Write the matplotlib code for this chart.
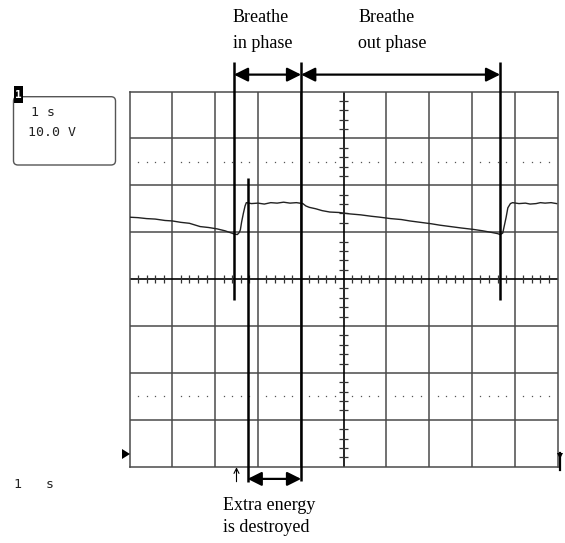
import matplotlib
matplotlib.use("Agg")
import matplotlib.pyplot as plt
from matplotlib.patches import FancyBboxPatch, FancyArrowPatch, Polygon, Rectangle

# trace (x in divisions of 1 s, y in divisions of 10 V)
trace_t = [0.00, 0.20, 0.40, 0.60, 0.83, 1.00, 1.20, 1.40, 1.65, 1.85, 2.05, 2.23,
           2.39, 2.45, 2.52, 2.56, 2.59, 2.62, 2.66, 2.70, 2.73, 2.85, 3.00, 3.15,
           3.30, 3.45, 3.60, 3.75, 3.90, 4.05, 4.12, 4.20, 4.35, 4.50, 4.68, 4.90,
           5.15, 5.40, 5.65, 5.85, 6.10, 6.35, 6.55, 6.80, 7.05, 7.25, 7.50, 7.75,
           8.03, 8.25, 8.49, 8.60, 8.66, 8.72, 8.76, 8.80, 8.84, 8.90, 8.95, 9.10,
           9.25, 9.36, 9.50, 9.60, 9.71, 9.85, 9.98]
trace_v = [1.32, 1.31, 1.29, 1.28, 1.25, 1.24, 1.21, 1.19, 1.12, 1.10, 1.07, 1.03,
           0.98, 0.96, 0.95, 0.99, 1.05, 1.22, 1.40, 1.56, 1.63, 1.61, 1.62, 1.60,
           1.63, 1.62, 1.64, 1.62, 1.63, 1.61, 1.56, 1.53, 1.50, 1.46, 1.43, 1.42,
           1.39, 1.37, 1.34, 1.32, 1.29, 1.27, 1.24, 1.21, 1.18, 1.15, 1.12, 1.09,
           1.06, 1.03, 0.99, 0.97, 0.95, 0.98, 1.15, 1.32, 1.52, 1.61, 1.63, 1.61,
           1.62, 1.60, 1.61, 1.63, 1.62, 1.63, 1.61]

# phase markers (time in divisions)
t_in_start = 2.44
t_extra = 2.76
t_out_start = 4.01
t_out_end = 8.66
t_trigger = 2.50

labels_top = [("Breathe", "in phase"), ("Breathe", "out phase")]
label_bottom = ("Extra energy", "is destroyed")
scale_time = "1 s"
scale_volt = "10.0 V"

W, H = 565, 543
fig = plt.figure(figsize=(W / 100, H / 100), dpi=100)
fig.patch.set_facecolor("white")

def fx(x):
    return x / W

def fy(y):
    return 1 - y / H

left, right, top, bottom = 129.5, 557.5, 91.5, 466.7
ax = fig.add_axes([fx(left), fy(bottom), (right - left) / W, (bottom - top) / H])
ax.set_xlim(0, 10)
ax.set_ylim(-4, 4)
ax.set_xticks([])
ax.set_yticks([])
for s in ax.spines.values():
    s.set_color("#4a4a4a")
    s.set_linewidth(1.1)

grid_col = "#4a4a4a"
for i in range(1, 10):
    if i != 5:
        ax.axvline(i, color=grid_col, lw=1.1, zorder=1)
for j in range(-3, 4):
    if j != 0:
        ax.axhline(j, color=grid_col, lw=1.1, zorder=1)

# centre axes with minor ticks
ax.axhline(0, color="black", lw=1.2, zorder=2)
ax.axvline(5, color="black", lw=1.2, zorder=2)
minor_x = [k / 5 for k in range(1, 50) if k % 5 != 0]
minor_y = [-4 + k / 5 for k in range(1, 40) if k % 5 != 0]
ax.vlines(minor_x, -0.08, 0.08, color="#333333", lw=0.9, zorder=2)
ax.hlines(minor_y, 5 - 0.11, 5 + 0.11, color="#333333", lw=0.9, zorder=2)

# dotted rows
for yy in (2.5, -2.5):
    ax.plot(minor_x, [yy] * len(minor_x), ls="none", marker="s", ms=0.9,
            mew=0, color="#555555", zorder=1)

# signal
ax.plot(trace_t, trace_v, color="#222222", lw=1.0, zorder=3)

# phase marker lines
mk = dict(color="black", lw=1.8, clip_on=False, zorder=4, solid_capstyle="butt")
ax.plot([t_in_start, t_in_start], [-0.45, 4.62], **mk)
ax.plot([t_extra, t_extra], [2.16, -4.33], **mk)
ax.plot([t_out_start, t_out_start], [4.62, -4.31], **mk)
ax.plot([t_out_end, t_out_end], [4.62, -0.45], **mk)

arr = dict(arrowstyle="<|-|>,head_length=0.6,head_width=0.3", mutation_scale=14,
           color="black", lw=1.6, shrinkA=0, shrinkB=0, clip_on=False, zorder=5)
y_top_arrow = 4.36
for a, b in [(t_in_start, t_out_start), (t_out_start, t_out_end)]:
    ax.add_patch(FancyArrowPatch((a, y_top_arrow), (b, y_top_arrow), **arr))
ax.add_patch(FancyArrowPatch((t_extra, -4.26), (t_out_start, -4.26), **arr))

# thin trigger arrow below the screen
ax.add_patch(FancyArrowPatch((t_trigger, -4.32), (t_trigger, -4.01),
                             arrowstyle="->,head_length=0.3,head_width=0.15",
                             mutation_scale=12, color="black", lw=0.8,
                             shrinkA=0, shrinkB=0, clip_on=False))

# annotations
serif = dict(family="Liberation Serif", fontsize=13, color="black", va="center", ha="left")
fig.text(fx(233), fy(18), labels_top[0][0], **serif)
fig.text(fx(233), fy(43), labels_top[0][1], **serif)
fig.text(fx(359), fy(18), labels_top[1][0], **serif)
fig.text(fx(358), fy(43), labels_top[1][1], **serif)
fig.text(fx(223), fy(506), label_bottom[0], **serif)
fig.text(fx(223), fy(528), label_bottom[1], **serif)

# scale box top-left
box = FancyBboxPatch((fx(13.5), fy(165)), fx(102), (165 - 96.7) / H,
                     boxstyle="round,pad=0,rounding_size=0.008",
                     transform=fig.transFigure, fc="white", ec="#555555", lw=1.0)
fig.patches.append(box)
fig.patches.append(Rectangle((fx(14), fy(103)), fx(9), 17 / H, transform=fig.transFigure,
                             fc="black", ec="none"))
fig.text(fx(18.5), fy(94.5), "1", color="white", fontsize=8, family="DejaVu Sans Mono",
         ha="center", va="center", weight="bold")
mono = dict(family="DejaVu Sans Mono", fontsize=9.5, color="#222222", va="center", ha="left")
fig.text(fx(31), fy(113), scale_time, **mono)
fig.text(fx(28), fy(133), scale_volt, **mono)
fig.text(fx(14), fy(485), "1   s", **mono)

# ground marker on the left, trigger marker on the right
fig.patches.append(Polygon([(fx(122), fy(449)), (fx(122), fy(459)), (fx(130), fy(454))],
                           closed=True, transform=fig.transFigure, fc="black", ec="none"))
fig.lines.append(plt.Line2D([fx(560), fx(560)], [fy(453), fy(470)], transform=fig.transFigure,
                            color="black", lw=1.6))
fig.patches.append(Polygon([(fx(557), fy(453)), (fx(563), fy(453)), (fx(560), fy(459))],
                           closed=True, transform=fig.transFigure, fc="black", ec="none"))

fig.savefig("out.png", dpi=100)
